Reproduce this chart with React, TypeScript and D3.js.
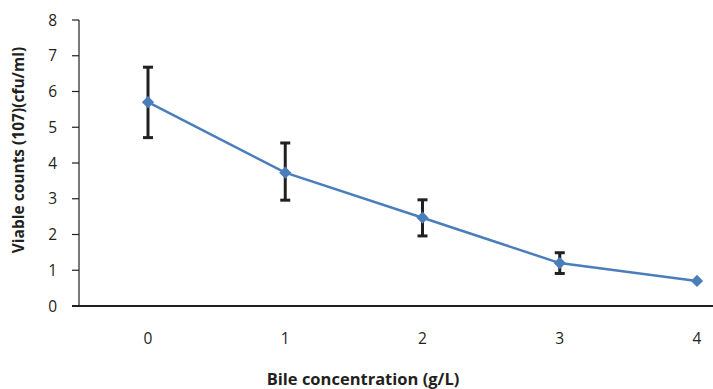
import * as d3 from "d3";
import { useEffect, useRef } from "react";

const WIDTH = 713;
const HEIGHT = 389;

// Bile concentration (g/L) and viable counts with error range.
const concentrations = [0, 1, 2, 3, 4];
const counts = [5.7, 3.73, 2.47, 1.2, 0.7];
const errLow = [4.71, 2.96, 1.96, 0.91, 0.7];
const errHigh = [6.68, 4.56, 2.97, 1.49, 0.7];
const yTicks = [0, 1, 2, 3, 4, 5, 6, 7, 8];

const BLUE = "#4A7EBB";
const INK = "#231F20";
const FONT = "'Open Sans', 'Noto Sans', sans-serif";

export default function App() {
  const svgRef = useRef<SVGSVGElement>(null);

  useEffect(() => {
    const svg = d3.select(svgRef.current);
    svg.selectAll("*").remove();

    const x = d3.scaleLinear().domain([0, 4]).range([148, 697]);
    const y = d3.scaleLinear().domain([0, 8]).range([306, 20]);

    // y axis
    svg.append("line")
      .attr("x1", 79).attr("x2", 79)
      .attr("y1", y(8)).attr("y2", y(0))
      .attr("stroke", INK).attr("stroke-width", 1.2);
    svg.append("g")
      .selectAll("line")
      .data(yTicks)
      .join("line")
      .attr("x1", 72).attr("x2", 79)
      .attr("y1", (d) => y(d)).attr("y2", (d) => y(d))
      .attr("stroke", INK).attr("stroke-width", 1.2);
    svg.append("g")
      .selectAll("text")
      .data(yTicks)
      .join("text")
      .attr("x", 57)
      .attr("y", (d) => y(d))
      .attr("dy", "0.36em")
      .attr("text-anchor", "end")
      .attr("font-family", FONT)
      .attr("font-size", 15.5)
      .attr("fill", INK)
      .text((d) => d);

    // x axis
    svg.append("line")
      .attr("x1", 72).attr("x2", WIDTH)
      .attr("y1", y(0)).attr("y2", y(0))
      .attr("stroke", INK).attr("stroke-width", 2.2);
    svg.append("g")
      .selectAll("text")
      .data(concentrations)
      .join("text")
      .attr("x", (d) => x(d))
      .attr("y", 338)
      .attr("dy", "0.36em")
      .attr("text-anchor", "middle")
      .attr("font-family", FONT)
      .attr("font-size", 15.5)
      .attr("fill", INK)
      .text((d) => d);

    // error bars
    const eb = svg.append("g").attr("stroke", INK).attr("stroke-width", 3);
    concentrations.forEach((c, i) => {
      if (errHigh[i] - errLow[i] < 0.01) return;
      eb.append("line")
        .attr("x1", x(c)).attr("x2", x(c))
        .attr("y1", y(errLow[i])).attr("y2", y(errHigh[i]));
      eb.append("line")
        .attr("x1", x(c) - 5).attr("x2", x(c) + 5)
        .attr("y1", y(errLow[i])).attr("y2", y(errLow[i]));
      eb.append("line")
        .attr("x1", x(c) - 5).attr("x2", x(c) + 5)
        .attr("y1", y(errHigh[i])).attr("y2", y(errHigh[i]));
    });

    // line
    const line = d3
      .line<number>()
      .x((_, i) => x(concentrations[i]))
      .y((d) => y(d));
    svg.append("path")
      .attr("d", line(counts) ?? "")
      .attr("fill", "none")
      .attr("stroke", BLUE)
      .attr("stroke-width", 2.5);

    // diamond markers
    const diamond = d3.symbol(d3.symbolDiamond2, 95);
    svg.append("g")
      .selectAll("path")
      .data(counts)
      .join("path")
      .attr("d", diamond() ?? "")
      .attr("transform", (d, i) => `translate(${x(concentrations[i])},${y(d)})`)
      .attr("fill", BLUE);

    // titles
    svg.append("text")
      .attr("x", 363)
      .attr("y", 379)
      .attr("dy", "0.36em")
      .attr("text-anchor", "middle")
      .attr("font-family", FONT)
      .attr("font-weight", "bold")
      .attr("font-size", 16.5)
      .attr("fill", INK)
      .text("Bile concentration (g/L)");
    svg.append("text")
      .attr("transform", `translate(18,${150}) rotate(-90)`)
      .attr("dy", "0.36em")
      .attr("text-anchor", "middle")
      .attr("font-family", FONT)
      .attr("font-weight", "bold")
      .attr("font-size", 15.5)
      .attr("fill", INK)
      .text("Viable counts (107)(cfu/ml)");
  }, []);

  return (
    <svg
      ref={svgRef}
      width={WIDTH}
      height={HEIGHT}
      style={{ position: "absolute", left: 0, top: 0 }}
    />
  );
}
